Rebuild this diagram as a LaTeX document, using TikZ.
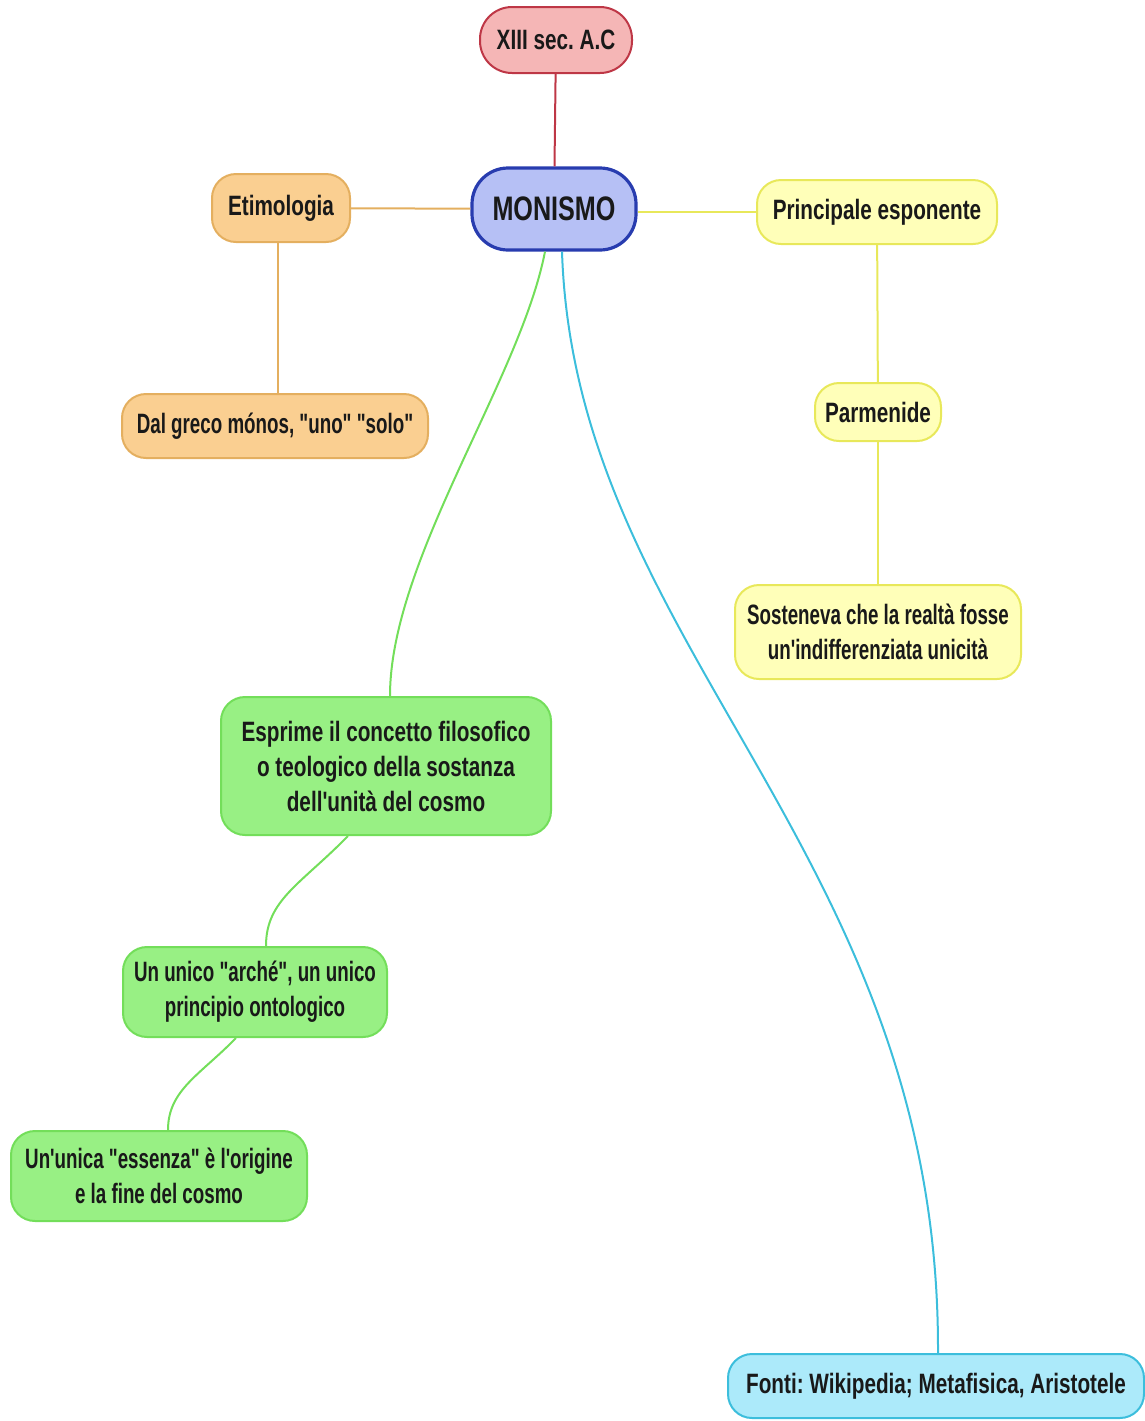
\documentclass[tikz,border=0pt]{standalone}
\usepackage{fontspec}
\setmainfont{Liberation Sans}[FakeStretch=0.74, Ligatures=TeXOff]
\newfontfamily\narrowfont{Liberation Sans}[FakeStretch=0.67, Ligatures=TeXOff]
\usepackage{xcolor}
\usetikzlibrary{arrows.meta}
\frenchspacing

\definecolor{redfill}{RGB}{245,182,182}
\definecolor{redline}{RGB}{190,55,70}
\definecolor{bluefill}{RGB}{182,192,245}
\definecolor{blueline}{RGB}{40,60,175}
\definecolor{orangefill}{RGB}{250,207,145}
\definecolor{orangeline}{RGB}{228,175,95}
\definecolor{yellowfill}{RGB}{255,255,185}
\definecolor{yellowline}{RGB}{232,232,90}
\definecolor{greenfill}{RGB}{152,240,132}
\definecolor{greenline}{RGB}{115,222,90}
\definecolor{cyanfill}{RGB}{172,234,250}
\definecolor{cyanline}{RGB}{60,190,220}
\definecolor{textdark}{RGB}{25,25,25}

\begin{document}
\begin{tikzpicture}[
  x=0.5pt, y=-0.5pt,
  topic/.style={rectangle, draw, line width=1pt, rounded corners=12pt, align=center, text=textdark,
    font=\bfseries\fontsize{14}{17.5}\selectfont, inner sep=1pt},
  narrow/.style={topic, font=\narrowfont\bfseries\fontsize{14}{17.5}\selectfont},
  root/.style={topic, line width=1.6pt, rounded corners=18pt, font=\bfseries\fontsize{17}{20}\selectfont},
  link/.style={line width=1pt}
]
  \useasboundingbox (0,0) rectangle (1145,1421);

  % Main topic
  \node[root, fill=bluefill, draw=blueline, minimum width=82pt, minimum height=41pt] (monismo) at (554,209) {MONISMO};

  % Branches
  \node[topic, fill=redfill, draw=redline, rounded corners=16pt, minimum width=76pt, minimum height=33pt] (secolo) at (556,40) {XIII sec. A.C};
  \node[topic, fill=orangefill, draw=orangeline, minimum width=69pt, minimum height=34pt] (etimologia) at (281,208) {Etimologia};
  \node[narrow, fill=orangefill, draw=orangeline, minimum width=153pt, minimum height=32pt] (greco) at (275,426) {Dal greco mónos, "uno" "solo"};
  \node[topic, fill=yellowfill, draw=yellowline, minimum width=120pt, minimum height=32pt] (esponente) at (877,212) {Principale esponente};
  \node[topic, fill=yellowfill, draw=yellowline, minimum width=63pt, minimum height=29pt] (parmenide) at (878,412) {Parmenide};
  \node[narrow, fill=yellowfill, draw=yellowline, minimum width=143pt, minimum height=47pt] (realta) at (878,632) {Sosteneva che la realtà fosse\\un'indifferenziata unicità};
  \node[topic, fill=greenfill, draw=greenline, minimum width=165pt, minimum height=69pt] (concetto) at (386,766) {Esprime il concetto filosofico\\o teologico della sostanza\\dell'unità del cosmo};
  \node[narrow, fill=greenfill, draw=greenline, minimum width=132pt, minimum height=45pt] (arche) at (255,992) {Un unico "arché", un unico\\principio ontologico};
  \node[narrow, fill=greenfill, draw=greenline, minimum width=148pt, minimum height=45pt] (essenza) at (159,1176) {Un'unica "essenza" è l'origine\\e la fine del cosmo};
  \node[topic, fill=cyanfill, draw=cyanline, minimum width=208pt, minimum height=32pt] (fonti) at (936,1386) {Fonti: Wikipedia; Metafisica, Aristotele};

  % Connections
  \draw[link, draw=redline] (secolo) -- (monismo);
  \draw[link, draw=orangeline] (etimologia) -- (monismo);
  \draw[link, draw=orangeline] (etimologia.south -| 278,0) -- (greco.north -| 278,0);
  \draw[link, draw=yellowline] (monismo.east |- esponente.west) -- (esponente.west);
  \draw[link, draw=yellowline] (esponente) -- (parmenide);
  \draw[link, draw=yellowline] (parmenide) -- (realta);
  \draw[link, draw=greenline] (monismo.south -| 545,0) .. controls (520,380) and (390,560) .. (concetto.north -| 390,0);
  \draw[link, draw=cyanline] (monismo.south -| 562,0) .. controls (575,650) and (940,850) .. (fonti.north -| 938,0);
  \draw[link, draw=greenline] (concetto.south -| 348,0) .. controls (300,885) and (266,900) .. (arche.north -| 266,0);
  \draw[link, draw=greenline] (arche.south -| 236,0) .. controls (200,1075) and (168,1090) .. (essenza.north -| 168,0);
\end{tikzpicture}
\end{document}
